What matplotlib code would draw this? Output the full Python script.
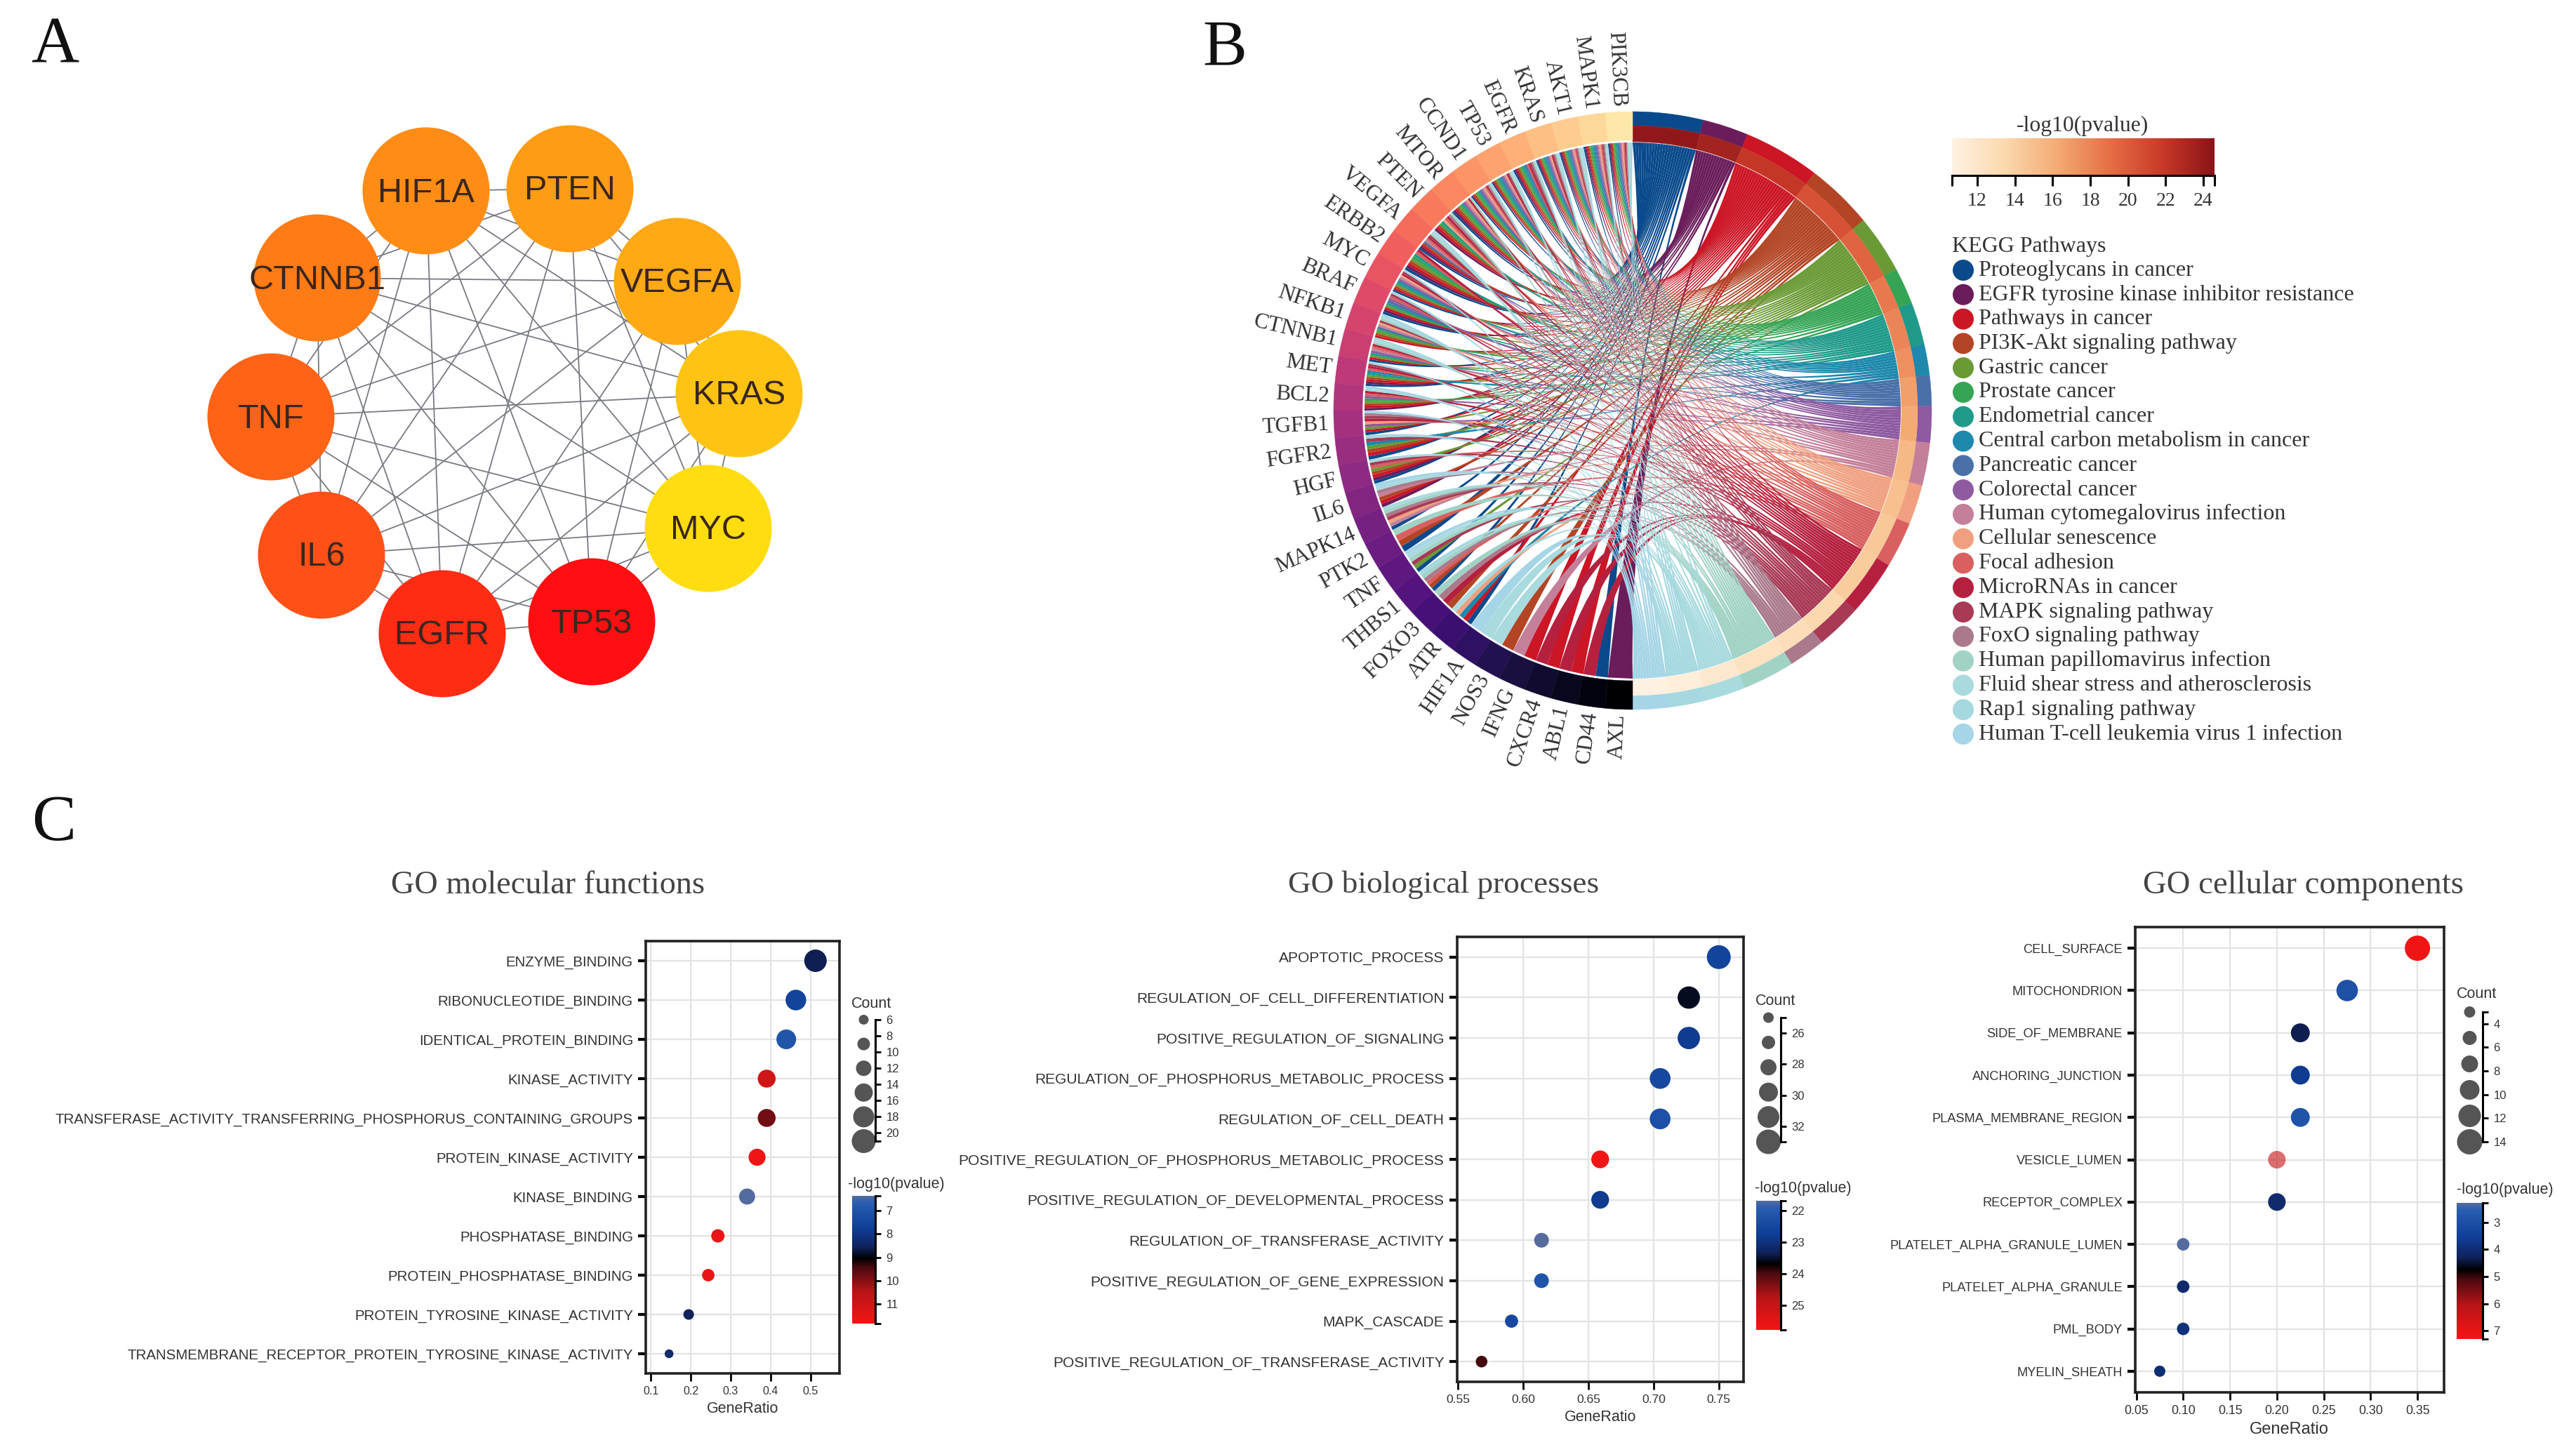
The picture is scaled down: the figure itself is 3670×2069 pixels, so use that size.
from itertools import combinations

import numpy as np
import matplotlib
matplotlib.use("Agg")
import matplotlib.pyplot as plt
from matplotlib.colors import LinearSegmentedColormap, Normalize
from matplotlib.patches import Circle, PathPatch, Wedge
from matplotlib.path import Path

W, H = 3670, 2069
SERIF = "Liberation Serif"
SANS = "Liberation Sans"

# panel A: hub genes, layout
hub_genes = ["PTEN", "VEGFA", "KRAS", "MYC", "TP53", "EGFR", "IL6", "TNF", "CTNNB1", "HIF1A"]
hub_x = [812, 965, 1053, 1009, 843, 630, 458, 386, 452, 607]
hub_y = [269, 401, 561, 753, 886, 903, 791, 594, 396, 272]
hub_score = [0.62, 0.70, 0.86, 1.00, 0.00, 0.10, 0.22, 0.30, 0.42, 0.52]

# panel B: chord diagram
chord_genes = ("PIK3CB MAPK1 AKT1 KRAS EGFR TP53 CCND1 MTOR PTEN VEGFA ERBB2 MYC BRAF NFKB1 "
               "CTNNB1 MET BCL2 TGFB1 FGFR2 HGF IL6 MAPK14 PTK2 TNF THBS1 FOXO3 ATR HIF1A "
               "NOS3 IFNG CXCR4 ABL1 CD44 AXL").split()
pathway_names = [
    "Proteoglycans in cancer", "EGFR tyrosine kinase inhibitor resistance", "Pathways in cancer",
    "PI3K-Akt signaling pathway", "Gastric cancer", "Prostate cancer", "Endometrial cancer",
    "Central carbon metabolism in cancer", "Pancreatic cancer", "Colorectal cancer",
    "Human cytomegalovirus infection", "Cellular senescence", "Focal adhesion", "MicroRNAs in cancer",
    "MAPK signaling pathway", "FoxO signaling pathway", "Human papillomavirus infection",
    "Fluid shear stress and atherosclerosis", "Rap1 signaling pathway",
    "Human T-cell leukemia virus 1 infection",
]
pathway_colors = ["#0a4a8c", "#6a1d5a", "#cc1525", "#b34525", "#6a9a35", "#35a455", "#1f9a8a",
                  "#1e88ad", "#4a70a8", "#8e5aa0", "#c4809a", "#f0a080", "#d86060", "#b5203f",
                  "#a83a55", "#aa7a8c", "#a0d2c5", "#a8dade", "#a5d8e0", "#a5d5e6"]
pathway_pvalue = [24.3, 23.5, 22.0, 20.6, 19.6, 18.6, 18.0, 17.5, 16.8, 16.3,
                  15.5, 15.0, 14.5, 14.2, 13.5, 13.0, 12.5, 11.8, 11.2, 10.8]
pathway_genes = [
    "PIK3CB MAPK1 AKT1 KRAS EGFR TP53 CCND1 MTOR VEGFA ERBB2 MYC BRAF CTNNB1 MET TGFB1 FGFR2 HGF MAPK14 PTK2 TNF THBS1 ATR CD44".split(),
    "PIK3CB MAPK1 AKT1 KRAS EGFR MTOR PTEN VEGFA ERBB2 BRAF MET BCL2 IL6 HGF AXL".split(),
    "PIK3CB MAPK1 AKT1 KRAS EGFR TP53 CCND1 MTOR PTEN VEGFA ERBB2 MYC BRAF NFKB1 CTNNB1 MET BCL2 TGFB1 FGFR2 HGF IL6 ATR IFNG CXCR4 ABL1".split(),
    "PIK3CB MAPK1 AKT1 KRAS EGFR TP53 CCND1 MTOR PTEN VEGFA ERBB2 MYC NFKB1 MET BCL2 FGFR2 HGF IL6 PTK2 THBS1 FOXO3 NOS3".split(),
    "PIK3CB MAPK1 AKT1 KRAS EGFR TP53 CCND1 MTOR ERBB2 MYC BRAF NFKB1 CTNNB1 MET BCL2 TGFB1 FGFR2 HGF TNF".split(),
    "PIK3CB MAPK1 AKT1 KRAS EGFR TP53 CCND1 MTOR PTEN ERBB2 NFKB1 BCL2".split(),
    "PIK3CB MAPK1 AKT1 KRAS EGFR TP53 CCND1 MTOR PTEN ERBB2 MYC BRAF CTNNB1 MET".split(),
    "PIK3CB MAPK1 AKT1 KRAS EGFR TP53 MYC MET FGFR2 ATR".split(),
    "PIK3CB MAPK1 AKT1 KRAS EGFR TP53 CCND1 VEGFA BRAF NFKB1".split(),
    "PIK3CB MAPK1 AKT1 KRAS TP53 CCND1 MTOR MYC BRAF CTNNB1 BCL2 TGFB1".split(),
    "PIK3CB MAPK1 AKT1 KRAS TP53 CCND1 MTOR VEGFA MYC NFKB1 CTNNB1 IL6 MAPK14 IFNG".split(),
    "PIK3CB MAPK1 AKT1 KRAS TP53 CCND1 MTOR PTEN MYC NFKB1 TGFB1 MAPK14 ATR".split(),
    "PIK3CB MAPK1 AKT1 EGFR CCND1 PTEN VEGFA ERBB2 BRAF CTNNB1 MET BCL2 HGF PTK2 THBS1".split(),
    "PIK3CB KRAS EGFR TP53 CCND1 MTOR PTEN VEGFA ERBB2 MYC CTNNB1 MET BCL2 TGFB1 FOXO3 CXCR4 ABL1 CD44".split(),
    "MAPK1 AKT1 KRAS EGFR TP53 VEGFA MYC BRAF NFKB1 MET TGFB1 FGFR2 HGF MAPK14 TNF".split(),
    "PIK3CB MAPK1 AKT1 KRAS EGFR CCND1 PTEN TGFB1 IL6 MAPK14 THBS1 FOXO3".split(),
    "PIK3CB MAPK1 AKT1 KRAS EGFR TP53 CCND1 MTOR PTEN VEGFA NFKB1 CTNNB1 MAPK14 PTK2 TNF THBS1 FOXO3".split(),
    "PIK3CB AKT1 TP53 VEGFA NFKB1 CTNNB1 BCL2 IL6 MAPK14 TNF ATR HIF1A NOS3".split(),
    "PIK3CB MAPK1 AKT1 KRAS EGFR VEGFA BRAF CTNNB1 MET FGFR2 HGF THBS1".split(),
    "PIK3CB AKT1 KRAS TP53 CCND1 MYC NFKB1 BCL2 TGFB1 IL6 TNF HIF1A".split(),
]
p_ticks = [12, 14, 16, 18, 20, 22, 24]

# panel C: GO dot plots
mf_terms = ["ENZYME_BINDING", "RIBONUCLEOTIDE_BINDING", "IDENTICAL_PROTEIN_BINDING", "KINASE_ACTIVITY",
            "TRANSFERASE_ACTIVITY_TRANSFERRING_PHOSPHORUS_CONTAINING_GROUPS", "PROTEIN_KINASE_ACTIVITY",
            "KINASE_BINDING", "PHOSPHATASE_BINDING", "PROTEIN_PHOSPHATASE_BINDING",
            "PROTEIN_TYROSINE_KINASE_ACTIVITY", "TRANSMEMBRANE_RECEPTOR_PROTEIN_TYROSINE_KINASE_ACTIVITY"]
mf_ratio = [0.512, 0.463, 0.439, 0.390, 0.390, 0.366, 0.341, 0.268, 0.244, 0.195, 0.146]
mf_count = [21, 19, 18, 16, 16, 15, 14, 11, 10, 8, 6]
mf_pvalue = [8.6, 7.6, 7.0, 11.0, 9.8, 11.7, 6.4, 11.5, 11.6, 8.55, 8.3]

bp_terms = ["APOPTOTIC_PROCESS", "REGULATION_OF_CELL_DIFFERENTIATION", "POSITIVE_REGULATION_OF_SIGNALING",
            "REGULATION_OF_PHOSPHORUS_METABOLIC_PROCESS", "REGULATION_OF_CELL_DEATH",
            "POSITIVE_REGULATION_OF_PHOSPHORUS_METABOLIC_PROCESS",
            "POSITIVE_REGULATION_OF_DEVELOPMENTAL_PROCESS", "REGULATION_OF_TRANSFERASE_ACTIVITY",
            "POSITIVE_REGULATION_OF_GENE_EXPRESSION", "MAPK_CASCADE",
            "POSITIVE_REGULATION_OF_TRANSFERASE_ACTIVITY"]
bp_ratio = [0.750, 0.727, 0.727, 0.705, 0.705, 0.659, 0.659, 0.614, 0.614, 0.591, 0.568]
bp_count = [33, 32, 32, 31, 31, 29, 29, 27, 27, 26, 25]
bp_pvalue = [22.6, 23.57, 22.8, 22.5, 22.3, 25.7, 22.8, 21.7, 22.2, 22.5, 23.95]

cc_terms = ["CELL_SURFACE", "MITOCHONDRION", "SIDE_OF_MEMBRANE", "ANCHORING_JUNCTION", "PLASMA_MEMBRANE_REGION",
            "VESICLE_LUMEN", "RECEPTOR_COMPLEX", "PLATELET_ALPHA_GRANULE_LUMEN", "PLATELET_ALPHA_GRANULE",
            "PML_BODY", "MYELIN_SHEATH"]
cc_ratio = [0.350, 0.275, 0.225, 0.225, 0.225, 0.200, 0.200, 0.100, 0.100, 0.100, 0.075]
cc_count = [14, 11, 9, 9, 9, 8, 8, 4, 4, 4, 3]
cc_pvalue = [7.2, 3.0, 4.34, 3.64, 2.9, 6.3, 4.1, 2.3, 4.1, 3.9, 4.0]
cc_alpha = [1, 1, 1, 1, 1, 0.62, 1, 1, 1, 1, 1]

hub_cmap = LinearSegmentedColormap.from_list("hub", ["#ff0f12", "#ff5a18", "#ff8a15", "#ffb015", "#ffdd10"])
p_cmap = LinearSegmentedColormap.from_list("pv", ["#fff2e4", "#fbd9ae", "#f4ab74", "#e66f46", "#c93a28", "#8b1418"])
dot_cmap = LinearSegmentedColormap.from_list(
    "dots",
    [(0.0, "#566c9c"), (0.05, "#2a5fb2"), (0.25, "#0f3f98"), (0.40, "#10225c"), (0.49, "#000000"),
     (0.56, "#4a0a10"), (0.75, "#b81518"), (1.0, "#f51515")],
)

fig = plt.figure(figsize=(W / 100, H / 100), dpi=100)


def px_axes(x0, y0, x1, y1, **kwargs):
    return fig.add_axes([x0 / W, 1 - y1 / H, (x1 - x0) / W, (y1 - y0) / H], **kwargs)


def px_text(x, y, s, **kwargs):
    fig.text(x / W, 1 - y / H, s, **kwargs)


def draw_network():
    ax = px_axes(0, 0, W, H)
    ax.set_xlim(0, W)
    ax.set_ylim(H, 0)
    ax.axis("off")
    ax.patch.set_alpha(0)
    for i, j in combinations(range(len(hub_genes)), 2):
        ax.plot([hub_x[i], hub_x[j]], [hub_y[i], hub_y[j]], color="#777b82", lw=1.3, zorder=1)
    norm = Normalize(0, 1)
    for name, x, y, score in zip(hub_genes, hub_x, hub_y, hub_score):
        ax.add_patch(Circle((x, y), 90.5, facecolor=hub_cmap(norm(score)), edgecolor="none", zorder=2))
        ax.text(x, y + 3, name, family=SANS, fontsize=35, color="#3a2620", ha="center", va="center", zorder=3)


def polar(angle, r):
    # angle in degrees, clockwise from twelve o'clock
    a = np.deg2rad(angle)
    return np.array([r * np.sin(a), r * np.cos(a)])


def draw_chord():
    ax = px_axes(2326 - 470, 585 - 470, 2326 + 470, 585 + 470)
    ax.set_xlim(-470, 470)
    ax.set_ylim(-470, 470)
    ax.axis("off")
    ax.patch.set_alpha(0)
    outer, mid, inner, link_r = 426, 406, 385, 382
    path_trunk, gene_trunk = 0.42, 0.30

    n_genes = len(chord_genes)
    gene_step = 180 / n_genes
    gene_links = {g: [] for g in chord_genes}
    for p, members in enumerate(pathway_genes):
        for g in members:
            gene_links[g].append(p)
    total = sum(len(m) for m in pathway_genes)
    link_step = 180 / total
    norm = Normalize(10.66, 24.6)

    start = 0.0
    for p, members in enumerate(pathway_genes):
        width = link_step * len(members)
        # wedge angles run counter-clockwise from three o'clock
        ax.add_patch(Wedge((0, 0), outer, 90 - start - width, 90 - start, width=outer - mid,
                           facecolor=pathway_colors[p], edgecolor=pathway_colors[p], lw=0.3))
        ax.add_patch(Wedge((0, 0), mid, 90 - start - width, 90 - start, width=mid - inner + 2,
                           facecolor=p_cmap(norm(pathway_pvalue[p])), edgecolor=p_cmap(norm(pathway_pvalue[p])), lw=0.3))
        ordered = sorted(members, key=chord_genes.index)
        # all links of a pathway, and of a gene, leave towards one shared control point
        c_path = path_trunk * polar(start + width / 2, link_r)
        for k, g in enumerate(ordered):
            a1 = start + k * link_step
            a2 = a1 + link_step
            g_i = chord_genes.index(g)
            links = sorted(gene_links[g], reverse=True)
            slot = links.index(p)
            share = gene_step / len(links)
            b1 = -(g_i * gene_step + slot * share)
            b2 = b1 - share
            p1, p2 = polar(a1, link_r), polar(a2, link_r)
            g1, g2 = polar(b1, link_r), polar(b2, link_r)
            c_gene = gene_trunk * polar(-(g_i + 0.5) * gene_step, link_r)
            verts = [p1, c_path, c_gene, g1, g2, c_gene, c_path, p2, p1]
            codes = [Path.MOVETO, Path.CURVE4, Path.CURVE4, Path.CURVE4, Path.LINETO,
                     Path.CURVE4, Path.CURVE4, Path.CURVE4, Path.CLOSEPOLY]
            ax.add_patch(PathPatch(Path(verts, codes), facecolor=pathway_colors[p], edgecolor="none", lw=0))
        start += width

    gene_colors = plt.get_cmap("magma_r")(np.linspace(0.05, 1.0, n_genes))
    for i, g in enumerate(chord_genes):
        ax.add_patch(Wedge((0, 0), outer, 90 + i * gene_step, 90 + (i + 1) * gene_step, width=outer - inner,
                           facecolor=gene_colors[i], edgecolor=gene_colors[i], lw=0.3))
        a = (i + 0.5) * gene_step
        x, y = polar(-a, outer + 7)
        ax.text(x, y, g, family=SERIF, fontsize=22.5, color="#333333", rotation=a - 90,
                rotation_mode="anchor", ha="right", va="center")

    # p-value colour bar
    cb = px_axes(2781, 197, 3155, 250)
    cb.imshow(np.linspace(10.66, 24.6, 256)[None, :], aspect="auto", cmap=p_cmap, norm=norm,
              extent=[10.66, 24.6, 0, 1])
    cb.set_yticks([])
    cb.set_xticks(p_ticks)
    cb.set_xticks([10.66, 24.6], minor=True)
    cb.tick_params(axis="x", which="both", length=11, width=2.2, labelsize=20, labelcolor="#333333", pad=6)
    for lab in cb.get_xticklabels():
        lab.set_family(SERIF)
    for side in ("top", "left", "right"):
        cb.spines[side].set_visible(False)
    cb.spines["bottom"].set_linewidth(2.2)
    px_text(2967, 179, "-log10(pvalue)", family=SERIF, fontsize=22.8, color="#333333", ha="center", va="center")

    # pathway legend
    px_text(2781, 351, "KEGG Pathways", family=SERIF, fontsize=23, color="#333333", ha="left", va="center")
    leg = px_axes(0, 0, W, H)
    leg.set_xlim(0, W)
    leg.set_ylim(H, 0)
    leg.axis("off")
    leg.patch.set_alpha(0)
    rows = np.linspace(385, 1046, len(pathway_names))
    leg.scatter([2797] * len(rows), rows, s=(30 * 0.72) ** 2, c=pathway_colors, edgecolors="none")
    for name, y in zip(pathway_names, rows):
        leg.text(2819, y, name, family=SERIF, fontsize=23, color="#333333", ha="left", va="center")


def dot_px(count, cmin, cmax, dmin, dmax):
    d = dmin + (np.asarray(count, dtype=float) - cmin) / (cmax - cmin) * (dmax - dmin)
    return (d * 0.72) ** 2


def draw_dotplot(terms, ratio, count, pvalue, title, title_xy, title_size, box, xlim, xticks, xfmt, label_size,
                 tick_size, xlabel_size, xlabel_pad, dot_range, legend_dot_range, count_box, count_ticks,
                 count_title_xy, bar_box, bar_lim, bar_ticks, bar_title_xy, alpha=None):
    px_text(title_xy[0], title_xy[1], title, family=SERIF, fontsize=title_size, color="#444444",
            ha="center", va="center")
    ax = px_axes(*box)
    ax.set_xlim(*xlim)
    ax.set_ylim(len(terms) - 0.5, -0.5)
    ax.set_axisbelow(True)
    ax.grid(True, color="#e3e3e3", lw=1.6)
    ax.set_yticks(range(len(terms)))
    ax.set_yticklabels(terms, family=SANS, fontsize=label_size, color="#333333")
    ax.set_xticks(xticks)
    ax.set_xticklabels([xfmt % t for t in xticks], family=SANS, fontsize=tick_size, color="#333333")
    ax.tick_params(axis="y", length=8, width=3, pad=5)
    ax.tick_params(axis="x", length=8, width=2, pad=5)
    for spine in ax.spines.values():
        spine.set_linewidth(2.6)
        spine.set_color("#222222")
    ax.set_xlabel("GeneRatio", family=SANS, fontsize=xlabel_size, color="#333333", labelpad=xlabel_pad)
    norm = Normalize(*bar_lim)
    cmin, cmax = min(count), max(count)
    ax.scatter(ratio, range(len(terms)), s=dot_px(count, cmin, cmax, *dot_range), c=pvalue, cmap=dot_cmap,
               norm=norm, alpha=alpha, edgecolors="none", zorder=3, clip_on=False)

    # size legend, its dots step evenly from the smallest to the largest count
    lg = px_axes(*count_box)
    lg.set_xlim(0, 1)
    lg.set_ylim(cmax, cmin)
    lg.patch.set_alpha(0)
    steps = np.linspace(cmin, cmax, 6)
    lg.scatter([0.5] * 6, steps, s=dot_px(steps, cmin, cmax, *legend_dot_range), color="#555555",
               edgecolors="none", clip_on=False)
    lg.set_xticks([])
    lg.yaxis.tick_right()
    lg.set_yticks(count_ticks)
    lg.set_yticks([cmin, cmax], minor=True)
    lg.tick_params(axis="y", which="both", length=6, width=2, labelsize=12, labelcolor="#333333", pad=5)
    for lab in lg.get_yticklabels():
        lab.set_family(SANS)
    for side in ("top", "left", "bottom"):
        lg.spines[side].set_visible(False)
    lg.spines["right"].set_linewidth(2.2)
    px_text(count_title_xy[0], count_title_xy[1], "Count", family=SANS, fontsize=15.5, color="#333333",
            ha="center", va="center")

    # colour bar
    cb = px_axes(*bar_box)
    cb.imshow(np.linspace(bar_lim[0], bar_lim[1], 256)[:, None], aspect="auto", cmap=dot_cmap, norm=norm,
              extent=[0, 1, bar_lim[1], bar_lim[0]])
    cb.set_xticks([])
    cb.yaxis.tick_right()
    cb.set_yticks(bar_ticks)
    cb.set_yticks(list(bar_lim), minor=True)
    cb.tick_params(axis="y", which="both", length=6, width=2, labelsize=12, labelcolor="#333333", pad=5)
    for lab in cb.get_yticklabels():
        lab.set_family(SANS)
    for side in ("top", "left", "bottom"):
        cb.spines[side].set_visible(False)
    cb.spines["right"].set_linewidth(2.2)
    px_text(bar_title_xy[0], bar_title_xy[1], "-log10(pvalue)", family=SANS, fontsize=15.5, color="#333333",
            ha="center", va="center")


draw_network()
draw_chord()

draw_dotplot(mf_terms, mf_ratio, mf_count, mf_pvalue, "GO molecular functions", (780, 1262), 33.3,
             (920, 1341, 1196, 1957), (0.0877, 0.572), [0.1, 0.2, 0.3, 0.4, 0.5], "%.1f", 14.75, 11.5, 15.5, 5,
             (12.5, 32), (14, 34), (1214, 1453, 1247, 1626), [6, 8, 10, 12, 14, 16, 18, 20], (1241, 1430),
             (1214, 1704, 1247, 1886), (6.37, 11.84), [7, 8, 9, 10, 11], (1277, 1688))
draw_dotplot(bp_terms, bp_ratio, bp_count, bp_pvalue, "GO biological processes", (2057, 1261), 32.6,
             (2075.5, 1335, 2484, 1969), (0.549, 0.769), [0.55, 0.60, 0.65, 0.70, 0.75], "%.2f", 15.1, 12.6, 15.5, 5,
             (16.6, 34), (15, 35), (2502, 1450, 2537, 1627), [26, 28, 30, 32], (2530, 1427),
             (2502, 1711, 2537, 1895), (21.7, 25.77), [22, 23, 24, 25], (2569, 1693))
draw_dotplot(cc_terms, cc_ratio, cc_count, cc_pvalue, "GO cellular components", (3281, 1262), 33.7,
             (3042, 1321, 3481.5, 1984), (0.0488, 0.378), [0.05, 0.10, 0.15, 0.20, 0.25, 0.30, 0.35], "%.2f",
             13.15, 12.8, 17, 5,
             (16, 36), (16, 36), (3500, 1442, 3537, 1627), [4, 6, 8, 10, 12, 14], (3528, 1417),
             (3500, 1714, 3537, 1908), (2.28, 7.3), [3, 4, 5, 6, 7], (3569, 1695), alpha=cc_alpha)

for letter, x, y in [("A", 78, 66), ("B", 1745, 70), ("C", 77, 1174)]:
    px_text(x, y, letter, family=SERIF, fontsize=68, color="#111111", ha="center", va="center")

fig.savefig("out.png", dpi=100, facecolor="white")
